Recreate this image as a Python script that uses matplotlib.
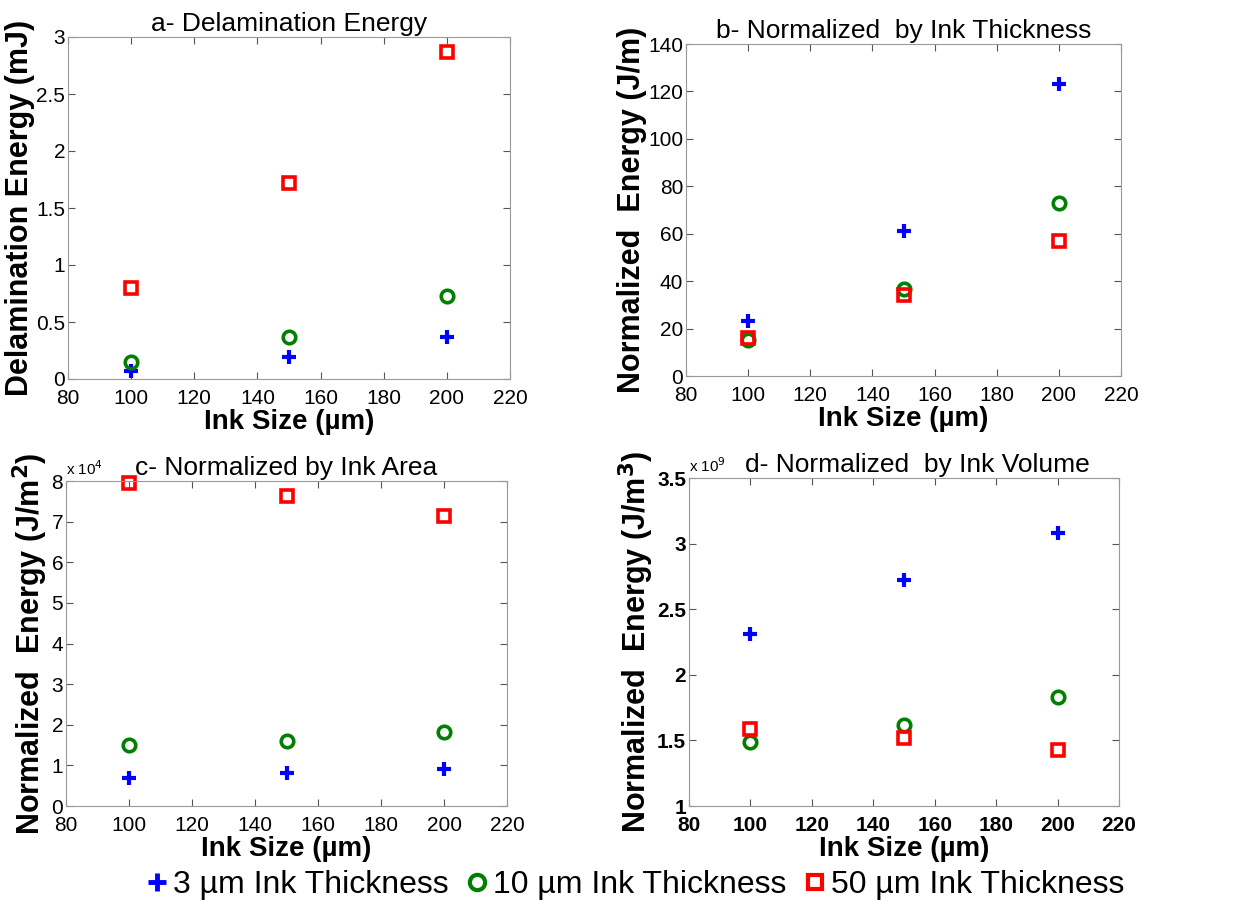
import numpy as np
import matplotlib.pyplot as plt
from matplotlib.ticker import FuncFormatter
from matplotlib.lines import Line2D

plt.rcParams['font.family'] = ['Liberation Sans', 'DejaVu Sans']

ink_size = [100, 150, 200]
series_names = ['3 µm Ink Thickness', '10 µm Ink Thickness', '50 µm Ink Thickness']

# a- delamination energy (mJ)
energy_3 = [0.07, 0.19, 0.37]
energy_10 = [0.15, 0.37, 0.73]
energy_50 = [0.80, 1.72, 2.87]

# b- normalized by ink thickness (J/m)
thick_3 = [23, 61, 123]
thick_10 = [15, 36.5, 73]
thick_50 = [16, 34, 57]

# c- normalized by ink area (x 1e4 J/m^2)
area_3 = [0.70, 0.82, 0.92]
area_10 = [1.50, 1.61, 1.83]
area_50 = [7.95, 7.63, 7.15]

# d- normalized by ink volume (x 1e9 J/m^3)
vol_3 = [2.31, 2.72, 3.08]
vol_10 = [1.49, 1.62, 1.83]
vol_50 = [1.59, 1.52, 1.43]

W, H = 1249, 907
fig = plt.figure(figsize=(W / 100, H / 100), dpi=100)

# marker styles (MATLAB-like)
sty_3 = dict(marker='+', color='#0000ff', ms=10, mew=3, ls='none')
sty_10 = dict(marker='o', color='#008000', mfc='none', ms=9, mew=2.6, ls='none')
sty_50 = dict(marker='s', color='#ff0000', mfc='none', ms=8, mew=2.6, ls='none')


def px_axes(l, t, r, b):
    return fig.add_axes([l / W, 1 - b / H, (r - l) / W, (b - t) / H])


def draw(ax, s3, s10, s50, title, ylabel, ylim, yticks, bold_ticks=False, mult=None):
    ax.plot(ink_size, s3, clip_on=False, **sty_3)
    ax.plot(ink_size, s10, clip_on=False, **sty_10)
    ax.plot(ink_size, s50, clip_on=False, **sty_50)
    ax.set_xlim(80, 220)
    ax.set_xticks(np.arange(80, 221, 20))
    ax.set_ylim(*ylim)
    ax.set_yticks(yticks)
    ax.yaxis.set_major_formatter(FuncFormatter(lambda v, p: '%g' % v))
    ax.tick_params(direction='in', top=True, right=True, length=5, width=0.8,
                   color='#555555', labelsize=15, pad=2)
    ax.tick_params(axis='x', pad=7)
    if bold_ticks:
        for lb in ax.get_xticklabels() + ax.get_yticklabels():
            lb.set_fontweight('bold')
    for sp in ax.spines.values():
        sp.set_color('#999999')
        sp.set_linewidth(0.8)
    ax.set_title(title, fontsize=19, pad=4)
    ax.set_xlabel('Ink Size (µm)', fontsize=20, fontweight='bold', labelpad=1)
    ax.set_ylabel(ylabel, fontsize=22, fontweight='bold', labelpad=1)
    if mult is not None:
        ax.text(0.0, 1.01, 'x 10$^{%d}$' % mult, transform=ax.transAxes,
                fontsize=11, ha='left', va='bottom')


ax_a = px_axes(68, 37, 510, 379)
draw(ax_a, energy_3, energy_10, energy_50, 'a- Delamination Energy',
     'Delamination Energy (mJ)', (0, 3), np.arange(0, 3.01, 0.5))

ax_b = px_axes(686, 44, 1121, 376)
draw(ax_b, thick_3, thick_10, thick_50, 'b- Normalized  by Ink Thickness',
     'Normalized  Energy (J/m)', (0, 140), np.arange(0, 141, 20))

ax_c = px_axes(66, 481, 507, 806)
draw(ax_c, area_3, area_10, area_50, 'c- Normalized by Ink Area',
     'Normalized  Energy (J/m$^\\mathbf{2}$)', (0, 8), np.arange(0, 9, 1), mult=4)

ax_d = px_axes(689, 478, 1119, 806)
draw(ax_d, vol_3, vol_10, vol_50, 'd- Normalized  by Ink Volume',
     'Normalized  Energy (J/m$^\\mathbf{3}$)', (1, 3.5), np.arange(1, 3.51, 0.5),
     bold_ticks=True, mult=9)
ax_d.title.set_position((0.53, 1.0))

leg_3 = dict(sty_3, ms=13, mew=3.5)
leg_10 = dict(sty_10, ms=11, mew=3)
leg_50 = dict(sty_50, ms=10, mew=3)
handles = [Line2D([], [], **leg_3), Line2D([], [], **leg_10), Line2D([], [], **leg_50)]
fig.legend(handles, series_names, loc='center', bbox_to_anchor=(636 / W, 1 - 885 / H),
           ncol=3, frameon=False, fontsize=23, handlelength=0.6, handletextpad=0.2,
           columnspacing=0.6)

fig.savefig('out.png', dpi=100)
